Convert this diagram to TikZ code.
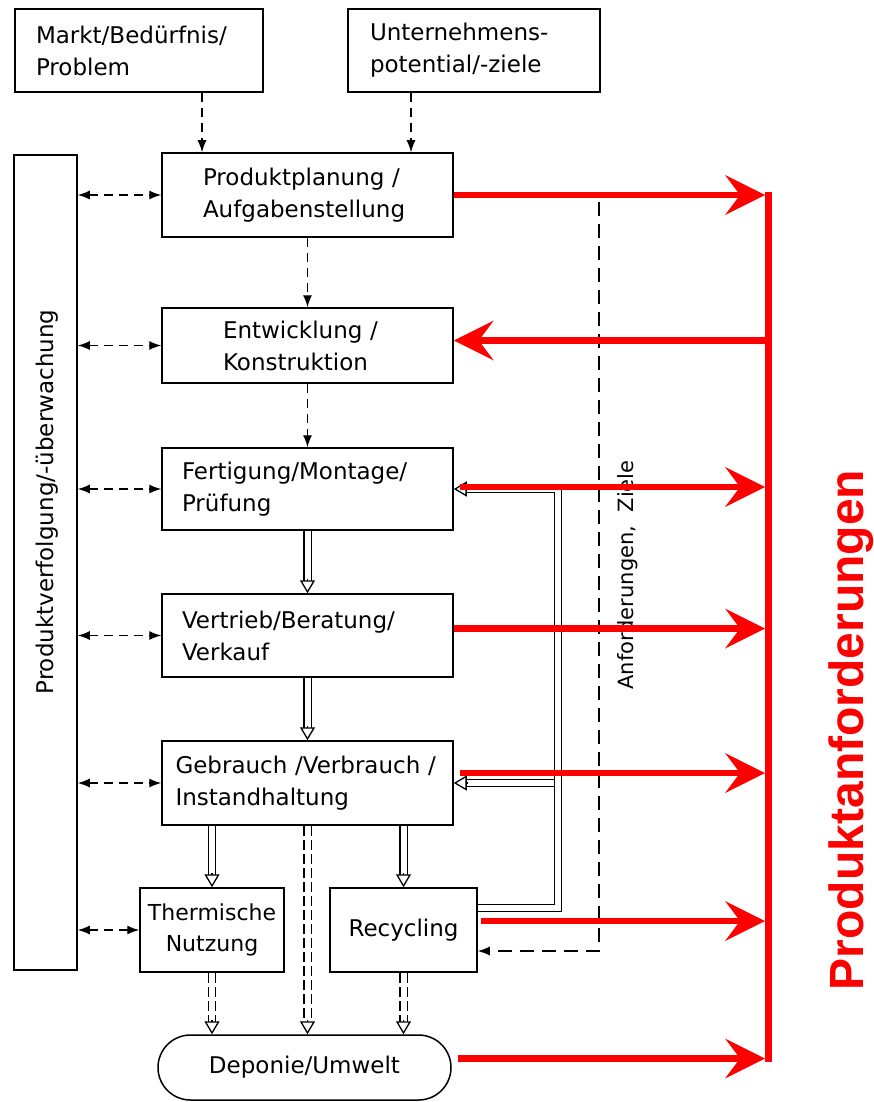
\documentclass[tikz,border=0pt]{standalone}
\usepackage{fontspec}
\setmainfont{DejaVu Sans}
\newfontfamily\headfont{Liberation Sans}
\usetikzlibrary{arrows.meta,calc}
\newcommand\boxfont{\fontsize{23}{32}\selectfont}
% double-line flow with a hollow triangular head
\newcommand\flowarrow[3][]{%
  \draw[dbl,#1,shorten >=11pt] #2 -- #3;
  \draw[htip] ($#3!14pt!#2$) -- #3;}
\begin{document}
\begin{tikzpicture}[x=1pt,y=-1pt,
  every node/.style={inner sep=0pt},
  box/.style={draw, line width=1.5pt, align=left, font=\boxfont},
  dsh/.style={line width=1.3pt, dash pattern=on 9pt off 6pt},
  longdsh/.style={line width=1.3pt, dash pattern=on 14pt off 8pt},
  dbldsh/.style={dash pattern=on 10pt off 4pt},
  dtip/.style={-{Latex[length=12pt,width=9pt]}},
  btip/.style={{Latex[length=12pt,width=9pt]}-{Latex[length=12pt,width=9pt]}},
  dbl/.style={line width=1.4pt, double=white, double distance=6pt, line join=miter},
  htip/.style={line width=1.3pt, -{Triangle[open,length=13pt,width=15pt,fill=white]}},
  redarrow/.style={draw=red, line width=6.5pt, -{Stealth[length=40pt,width=40pt,inset=15pt,line width=0pt]}},
]
\useasboundingbox (0,0) rectangle (874,1102);

% boxes
\node[box, minimum width=248pt, minimum height=83pt, text width=206pt] (markt) at (139,50.5) {Markt/Bedürfnis/\\Problem};
\node[box, minimum width=252pt, minimum height=83pt, text width=208pt] (untern) at (474,50.5) {Unternehmens-\\potential/-ziele};
\node[box, minimum width=291pt, minimum height=84pt, text width=209pt] (prod) at (307.5,195) {Produktplanung /\\Aufgabenstellung};
\node[box, minimum width=291pt, minimum height=75pt, text width=169pt] (entw) at (307.5,345.5) {Entwicklung /\\Konstruktion};
\node[box, minimum width=291pt, minimum height=82pt, text width=251pt] (fert) at (307.5,489) {Fertigung/Montage/\\Prüfung};
\node[box, minimum width=291pt, minimum height=83pt, text width=251pt] (vert) at (307.5,635.5) {Vertrieb/Beratung/\\Verkauf};
\node[box, minimum width=291pt, minimum height=84pt, text width=264pt] (geb) at (307.5,783) {Gebrauch /Verbrauch /\\Instandhaltung};
\node[box, align=center, minimum width=144pt, minimum height=84pt, font=\fontsize{22}{31}\selectfont] (therm) at (212,930) {Thermische\\Nutzung};
\node[box, align=center, minimum width=147pt, minimum height=84pt] (rec) at (403.5,930) {Recycling};
\node[box, align=center, minimum width=293pt, minimum height=65pt, rounded corners=32.5pt] (dep) at (304.5,1067.5) {Deponie/Umwelt};
\node[box, minimum width=63pt, minimum height=815pt] (bar) at (45.5,562.5) {};
\node[rotate=90, font=\boxfont] (barlabel) at (47,502) {Produktverfolgung/-überwachung};

% inputs into the planning step
\coordinate (m1) at (202,0);
\coordinate (u1) at (411,0);
\draw[dsh, dtip] (markt.south -| m1) -- (prod.north -| m1);
\draw[dsh, dtip] (untern.south -| u1) -- (prod.north -| u1);
\draw[dsh, dtip] (prod.south) -- (entw.north);
\draw[dsh, dtip] (entw.south) -- (fert.north);

% tracking links to the left bar
\foreach \b in {prod,entw,fert,vert,geb,therm}
  \draw[dsh, btip] (bar.east |- \b.west) -- (\b.west);

% material flow
\flowarrow{(fert.south)}{(vert.north)}
\flowarrow{(vert.south)}{(geb.north)}
\flowarrow{(therm.north |- geb.south)}{(therm.north)}
\flowarrow{(rec.north |- geb.south)}{(rec.north)}
\flowarrow[dbldsh]{(therm.south)}{(therm.south |- dep.north)}
\flowarrow[dbldsh]{(geb.south)}{(geb.south |- dep.north)}
\flowarrow[dbldsh]{(rec.south)}{(rec.south |- dep.north)}

% recycling loop back into production and use
\coordinate (fb) at (558,908);
\draw[dbl, shorten >=11pt] (rec.east |- fb) -- (fb) |- (fert.east);
\draw[htip] ($(fert.east)+(14,0)$) -- (fert.east);
\draw[dbl, shorten >=11pt] ($(fb |- geb.east)+(-4.5,0)$) -- (geb.east);
\draw[htip] ($(geb.east)+(14,0)$) -- (geb.east);

% requirements and goals back to recycling
\coordinate (anf) at (599,951);
\draw[longdsh, dtip] ([yshift=2pt]prod.east) -| (anf) -- (anf -| rec.east);
\node[rotate=90, font=\fontsize{21}{21}\selectfont] (anflabel) at (628,575) {Anforderungen,\ \ Ziele};

% product requirements
\coordinate (rtop) at (768,192);
\coordinate (rbot) at (768,1061.5);
\coordinate (rin) at (765,0);
\draw[red, line width=7pt] (rtop) -- (rbot);
\draw[redarrow] (prod.east) -- (prod.east -| rin);
\draw[redarrow] ([yshift=5pt]entw.east -| rtop) -- ([yshift=5pt]entw.east);
\draw[redarrow] ([xshift=6pt,yshift=2pt]fert.east) -- ([yshift=2pt]fert.east -| rin);
\draw[redarrow] ([yshift=7pt]vert.east) -- ([yshift=7pt]vert.east -| rin);
\draw[redarrow] ([xshift=6pt,yshift=10pt]geb.east) -- ([yshift=10pt]geb.east -| rin);
\draw[redarrow] ([xshift=3pt,yshift=9pt]rec.east) -- ([yshift=9pt]rec.east -| rin);
\draw[redarrow] ([xshift=6pt,yshift=9pt]dep.east) -- ([yshift=9pt]dep.east -| rin);
\node[rotate=90, text=red, font=\headfont\bfseries\fontsize{48}{48}\selectfont] (req) at (851,730) {Produktanforderungen};
\end{tikzpicture}
\end{document}
